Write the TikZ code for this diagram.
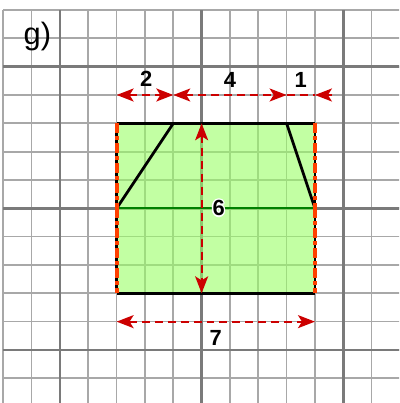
\documentclass[tikz,border=0pt]{standalone}
\usepackage{fontspec}
\setmainfont{Liberation Sans}
\usepackage{tikz}
\usepackage[copies]{contour}
\usetikzlibrary{arrows.meta}

\definecolor{gridthin}{RGB}{168,168,168}
\definecolor{gridthick}{RGB}{122,122,122}
\definecolor{areafill}{RGB}{153,255,102}
\definecolor{dimred}{RGB}{204,0,0}
\definecolor{edgeorange}{RGB}{255,64,0}
\definecolor{midgreen}{RGB}{0,128,0}
\contourlength{1.3pt}

\begin{document}
\begin{tikzpicture}[x=1cm,y=1cm,
    gridline/.style={draw=gridthin, line width=1.7pt},
    majorline/.style={draw=gridthick, line width=2.5pt},
    edgeline/.style={draw=black, line width=2.8pt},
    sideline/.style={draw=edgeorange, line width=3.8pt, dash pattern=on 10pt off 3pt on 4pt off 3pt},
    dimline/.style={draw=dimred, line width=2.2pt, dash pattern=on 8pt off 5pt},
    dimtip/.tip={Stealth[length=17pt,width=13pt,inset=4pt]},
    dimlabel/.style={font=\fontsize{22}{26}\selectfont\bfseries}]
  \useasboundingbox (-0.117,-13.872) rectangle (13.967,0.353);

  % grid paper
  \begin{scope}
    \clip (-0.117,-13.872) rectangle (13.967,0.353);
    \foreach \i in {0,...,13} {
      \draw[gridline] (\i,0) -- (\i,-14);
      \draw[gridline] (0,-\i) -- (14,-\i);
    }
    \foreach \i in {2,7,12} {
      \draw[majorline] (\i,0) -- (\i,-14);
      \draw[majorline] (0,-\i) -- (14,-\i);
    }
  \end{scope}

  % corners of the figure
  \coordinate (A) at (4,-4);
  \coordinate (B) at (6,-4);
  \coordinate (C) at (10,-4);
  \coordinate (D) at (11,-4);
  \coordinate (E) at (4,-7);
  \coordinate (F) at (11,-7);
  \coordinate (G) at (4,-10);
  \coordinate (H) at (11,-10);

  \fill[areafill, fill opacity=0.6] (A) rectangle (H);
  \draw[midgreen, line width=2pt] (E) -- (F);

  \draw[edgeline] (A) -- (D);
  \draw[edgeline] (G) -- (H);
  \draw[edgeline] (A) -- (G);
  \draw[edgeline] (D) -- (H);
  \draw[edgeline] (E) -- (B);
  \draw[edgeline] (C) -- (F);

  \draw[sideline] (A) -- (E);
  \draw[sideline] (E) -- (G);
  \draw[sideline] (D) -- (F);
  \draw[sideline] (F) -- (H);

  % dimension arrows
  \coordinate (t4)  at (4,-3);
  \coordinate (t6)  at (6,-3);
  \coordinate (t10) at (10,-3);
  \coordinate (t11) at (11,-3);
  \coordinate (tr)  at (11.6,-3);
  \coordinate (v1)  at (7,-4);
  \coordinate (v2)  at (7,-10);
  \coordinate (b4)  at (4,-11);
  \coordinate (b11) at (11,-11);

  \draw[dimline, dimtip-dimtip] (t4) -- (t6);
  \draw[dimline, dimtip-dimtip] (t6) -- (t10);
  \draw[dimline] (t10) -- (t11);
  \draw[draw=dimred, line width=2.2pt, -dimtip] (tr) -- (t11);
  \draw[dimline, dimtip-dimtip] (v1) -- (v2);
  \draw[dimline, dimtip-dimtip] (b4) -- (b11);

  % labels
  \node[font=\fontsize{31}{36}\selectfont] (title) at (1.2,-0.95) {g)};
  \node[dimlabel] (l2) at (5.04,-2.42) {2};
  \node[dimlabel] (l4) at (8.0,-2.47) {4};
  \node[dimlabel] (l1) at (10.5,-2.47) {1};
  \node[dimlabel] (l6) at (7.6,-7.02) {\contour{white}{6}};
  \node[dimlabel] (l7) at (7.5,-11.58) {7};
\end{tikzpicture}
\end{document}
